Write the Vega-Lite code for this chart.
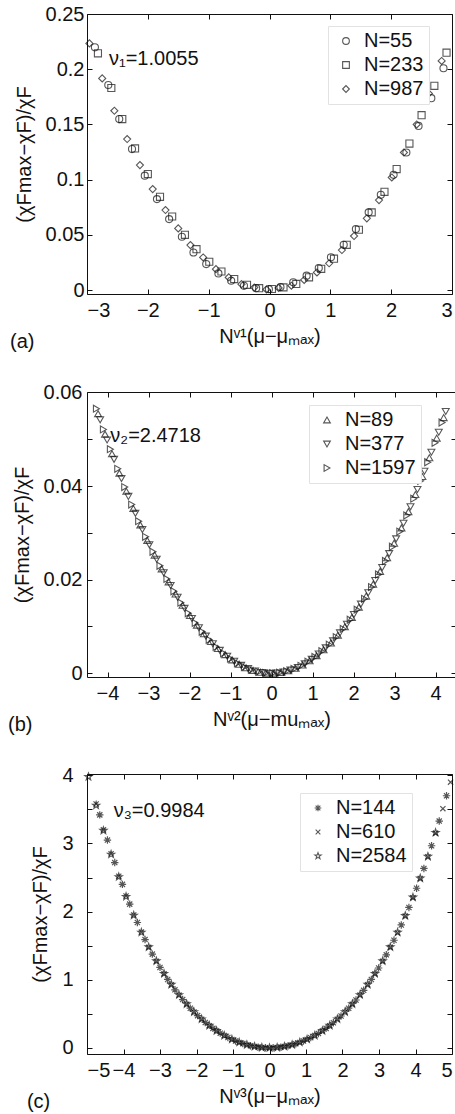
{
  "$schema": "https://vega.github.io/schema/vega-lite/v6.json",
  "background": "white",
  "padding": {"left": 7, "top": 3, "right": 0, "bottom": 0},
  "spacing": 28,
  "resolve": {"scale": {"shape": "independent"}, "legend": {"shape": "independent"}},
  "config": {
    "font": "Liberation Sans",
    "view": {"stroke": "#111111", "strokeWidth": 1},
    "axis": {
      "domain": false, "grid": false,
      "tickColor": "#111111", "tickSize": -5, "tickWidth": 1,
      "labelFont": "Liberation Sans", "labelFontSize": 20, "labelColor": "#111111",
      "titleFont": "Liberation Sans", "titleFontSize": 20, "titleFontWeight": "normal", "titleColor": "#111111"
    },
    "legend": {
      "padding": 5,
      "strokeColor": "#e2e2e2", "fillColor": "white",
      "labelFont": "Liberation Sans", "labelFontSize": 20, "labelColor": "#111111", "labelLimit": 0,
      "symbolSize": 45, "symbolStrokeColor": "#111111", "symbolStrokeWidth": 1,
      "symbolOffset": 3, "labelOffset": 8, "rowPadding": 4
    },
    "title": {"font": "Liberation Sans", "fontSize": 20, "fontWeight": "normal", "color": "#111111"},
    "point": {"filled": false, "stroke": "#111111", "strokeWidth": 1.1}
  },
  "datasets": {
    "a": [
      {"N":"N=55","x":-2.87,"y":0.2198},{"N":"N=55","x":-2.65,"y":0.1857},{"N":"N=55","x":-2.47,"y":0.1549},{"N":"N=55","x":-2.26,"y":0.1277},{"N":"N=55","x":-2.05,"y":0.1036},{"N":"N=55","x":-1.85,"y":0.0824},{"N":"N=55","x":-1.65,"y":0.0643},{"N":"N=55","x":-1.44,"y":0.0483},{"N":"N=55","x":-1.25,"y":0.0341},{"N":"N=55","x":-1.04,"y":0.0236},{"N":"N=55","x":-0.84,"y":0.0151},{"N":"N=55","x":-0.63,"y":0.0085},{"N":"N=55","x":-0.42,"y":0.0039},{"N":"N=55","x":-0.22,"y":0.0018},{"N":"N=55","x":-0.01,"y":0.0009},
      {"N":"N=55","x":0.18,"y":0.0028},{"N":"N=55","x":0.39,"y":0.0071},{"N":"N=55","x":0.61,"y":0.0131},{"N":"N=55","x":0.81,"y":0.0200},{"N":"N=55","x":1.01,"y":0.0297},{"N":"N=55","x":1.22,"y":0.0411},{"N":"N=55","x":1.42,"y":0.0553},{"N":"N=55","x":1.63,"y":0.0704},{"N":"N=55","x":1.83,"y":0.0863},{"N":"N=55","x":2.04,"y":0.1044},{"N":"N=55","x":2.25,"y":0.1246},{"N":"N=55","x":2.45,"y":0.1487},{"N":"N=55","x":2.66,"y":0.1738},{"N":"N=55","x":2.86,"y":0.2009},
      {"N":"N=233","x":-2.82,"y":0.2144},{"N":"N=233","x":-2.60,"y":0.1830},{"N":"N=233","x":-2.42,"y":0.1549},{"N":"N=233","x":-2.21,"y":0.1283},{"N":"N=233","x":-2.00,"y":0.1051},{"N":"N=233","x":-1.80,"y":0.0845},{"N":"N=233","x":-1.60,"y":0.0667},{"N":"N=233","x":-1.39,"y":0.0501},{"N":"N=233","x":-1.20,"y":0.0371},{"N":"N=233","x":-0.99,"y":0.0257},{"N":"N=233","x":-0.79,"y":0.0169},{"N":"N=233","x":-0.58,"y":0.0100},{"N":"N=233","x":-0.37,"y":0.0048},{"N":"N=233","x":-0.17,"y":0.0018},{"N":"N=233","x":0.04,"y":0.0010},
      {"N":"N=233","x":0.23,"y":0.0025},{"N":"N=233","x":0.44,"y":0.0056},{"N":"N=233","x":0.65,"y":0.0116},{"N":"N=233","x":0.85,"y":0.0193},{"N":"N=233","x":1.06,"y":0.0285},{"N":"N=233","x":1.27,"y":0.0410},{"N":"N=233","x":1.47,"y":0.0547},{"N":"N=233","x":1.68,"y":0.0704},{"N":"N=233","x":1.89,"y":0.0890},{"N":"N=233","x":2.09,"y":0.1096},{"N":"N=233","x":2.30,"y":0.1327},{"N":"N=233","x":2.50,"y":0.1584},{"N":"N=233","x":2.71,"y":0.1850},{"N":"N=233","x":2.91,"y":0.2150},
      {"N":"N=987","x":-2.96,"y":0.2234},{"N":"N=987","x":-2.75,"y":0.1917},{"N":"N=987","x":-2.55,"y":0.1624},{"N":"N=987","x":-2.34,"y":0.1368},{"N":"N=987","x":-2.13,"y":0.1132},{"N":"N=987","x":-1.92,"y":0.0915},{"N":"N=987","x":-1.71,"y":0.0725},{"N":"N=987","x":-1.50,"y":0.0559},{"N":"N=987","x":-1.30,"y":0.0408},{"N":"N=987","x":-1.09,"y":0.0296},{"N":"N=987","x":-0.88,"y":0.0190},{"N":"N=987","x":-0.67,"y":0.0115},{"N":"N=987","x":-0.46,"y":0.0054},{"N":"N=987","x":-0.25,"y":0.0024},{"N":"N=987","x":-0.05,"y":0.0006},
      {"N":"N=987","x":0.15,"y":0.0020},{"N":"N=987","x":0.36,"y":0.0040},{"N":"N=987","x":0.57,"y":0.0092},{"N":"N=987","x":0.78,"y":0.0160},{"N":"N=987","x":0.98,"y":0.0243},{"N":"N=987","x":1.19,"y":0.0363},{"N":"N=987","x":1.39,"y":0.0490},{"N":"N=987","x":1.60,"y":0.0650},{"N":"N=987","x":1.80,"y":0.0815},{"N":"N=987","x":2.01,"y":0.1020},{"N":"N=987","x":2.21,"y":0.1246},{"N":"N=987","x":2.42,"y":0.1500},{"N":"N=987","x":2.62,"y":0.1780},{"N":"N=987","x":2.83,"y":0.2075}
    ],
    "b": [
      {"N":"N=89","x":-4.23,"y":0.05547},{"N":"N=89","x":-4.06,"y":0.05110},{"N":"N=89","x":-3.89,"y":0.04691},{"N":"N=89","x":-3.71,"y":0.04276},{"N":"N=89","x":-3.54,"y":0.03889},{"N":"N=89","x":-3.37,"y":0.03521},{"N":"N=89","x":-3.20,"y":0.03170},{"N":"N=89","x":-3.03,"y":0.02839},{"N":"N=89","x":-2.85,"y":0.02525},{"N":"N=89","x":-2.68,"y":0.02230},{"N":"N=89","x":-2.51,"y":0.01953},{"N":"N=89","x":-2.34,"y":0.01695},{"N":"N=89","x":-2.17,"y":0.01454},{"N":"N=89","x":-1.99,"y":0.01233},{"N":"N=89","x":-1.82,"y":0.01029},{"N":"N=89","x":-1.65,"y":0.00844},{"N":"N=89","x":-1.48,"y":0.00677},{"N":"N=89","x":-1.31,"y":0.00529},{"N":"N=89","x":-1.13,"y":0.00399},{"N":"N=89","x":-0.96,"y":0.00287},{"N":"N=89","x":-0.79,"y":0.00193},{"N":"N=89","x":-0.62,"y":0.00118},{"N":"N=89","x":-0.45,"y":0.00062},{"N":"N=89","x":-0.27,"y":0.00023},{"N":"N=89","x":-0.10,"y":0.00003},
      {"N":"N=89","x":0.07,"y":0.00002},{"N":"N=89","x":0.24,"y":0.00018},{"N":"N=89","x":0.41,"y":0.00053},{"N":"N=89","x":0.59,"y":0.00106},{"N":"N=89","x":0.76,"y":0.00178},{"N":"N=89","x":0.93,"y":0.00268},{"N":"N=89","x":1.10,"y":0.00376},{"N":"N=89","x":1.27,"y":0.00503},{"N":"N=89","x":1.45,"y":0.00648},{"N":"N=89","x":1.62,"y":0.00812},{"N":"N=89","x":1.79,"y":0.00993},{"N":"N=89","x":1.96,"y":0.01193},{"N":"N=89","x":2.13,"y":0.01412},{"N":"N=89","x":2.31,"y":0.01649},{"N":"N=89","x":2.48,"y":0.01904},{"N":"N=89","x":2.65,"y":0.02177},{"N":"N=89","x":2.82,"y":0.02469},{"N":"N=89","x":2.99,"y":0.02779},{"N":"N=89","x":3.17,"y":0.03107},{"N":"N=89","x":3.34,"y":0.03454},{"N":"N=89","x":3.51,"y":0.03819},{"N":"N=89","x":3.68,"y":0.04203},{"N":"N=89","x":3.85,"y":0.04605},{"N":"N=89","x":4.03,"y":0.05025},{"N":"N=89","x":4.20,"y":0.05463},
      {"N":"N=377","x":-4.18,"y":0.05416},{"N":"N=377","x":-4.01,"y":0.04984},{"N":"N=377","x":-3.84,"y":0.04570},{"N":"N=377","x":-3.66,"y":0.04161},{"N":"N=377","x":-3.49,"y":0.03779},{"N":"N=377","x":-3.32,"y":0.03417},{"N":"N=377","x":-3.15,"y":0.03071},{"N":"N=377","x":-2.98,"y":0.02745},{"N":"N=377","x":-2.80,"y":0.02437},{"N":"N=377","x":-2.63,"y":0.02147},{"N":"N=377","x":-2.46,"y":0.01875},{"N":"N=377","x":-2.29,"y":0.01623},{"N":"N=377","x":-2.12,"y":0.01387},{"N":"N=377","x":-1.94,"y":0.01171},{"N":"N=377","x":-1.77,"y":0.00973},{"N":"N=377","x":-1.60,"y":0.00793},{"N":"N=377","x":-1.43,"y":0.00631},{"N":"N=377","x":-1.26,"y":0.00489},{"N":"N=377","x":-1.08,"y":0.00364},{"N":"N=377","x":-0.91,"y":0.00257},{"N":"N=377","x":-0.74,"y":0.00169},{"N":"N=377","x":-0.57,"y":0.00099},{"N":"N=377","x":-0.40,"y":0.00048},{"N":"N=377","x":-0.22,"y":0.00015},{"N":"N=377","x":-0.05,"y":0.00001},
      {"N":"N=377","x":0.12,"y":0.00004},{"N":"N=377","x":0.29,"y":0.00026},{"N":"N=377","x":0.46,"y":0.00066},{"N":"N=377","x":0.64,"y":0.00124},{"N":"N=377","x":0.81,"y":0.00201},{"N":"N=377","x":0.98,"y":0.00297},{"N":"N=377","x":1.15,"y":0.00410},{"N":"N=377","x":1.32,"y":0.00542},{"N":"N=377","x":1.50,"y":0.00693},{"N":"N=377","x":1.67,"y":0.00862},{"N":"N=377","x":1.84,"y":0.01048},{"N":"N=377","x":2.01,"y":0.01254},{"N":"N=377","x":2.18,"y":0.01478},{"N":"N=377","x":2.36,"y":0.01720},{"N":"N=377","x":2.53,"y":0.01981},{"N":"N=377","x":2.70,"y":0.02259},{"N":"N=377","x":2.87,"y":0.02556},{"N":"N=377","x":3.04,"y":0.02872},{"N":"N=377","x":3.22,"y":0.03205},{"N":"N=377","x":3.39,"y":0.03557},{"N":"N=377","x":3.56,"y":0.03928},{"N":"N=377","x":3.73,"y":0.04317},{"N":"N=377","x":3.90,"y":0.04724},{"N":"N=377","x":4.08,"y":0.05150},{"N":"N=377","x":4.25,"y":0.05593},
      {"N":"N=1597","x":-4.27,"y":0.05653},{"N":"N=1597","x":-4.10,"y":0.05211},{"N":"N=1597","x":-3.93,"y":0.04788},{"N":"N=1597","x":-3.75,"y":0.04369},{"N":"N=1597","x":-3.58,"y":0.03978},{"N":"N=1597","x":-3.41,"y":0.03605},{"N":"N=1597","x":-3.24,"y":0.03250},{"N":"N=1597","x":-3.07,"y":0.02915},{"N":"N=1597","x":-2.89,"y":0.02596},{"N":"N=1597","x":-2.72,"y":0.02297},{"N":"N=1597","x":-2.55,"y":0.02016},{"N":"N=1597","x":-2.38,"y":0.01753},{"N":"N=1597","x":-2.21,"y":0.01508},{"N":"N=1597","x":-2.03,"y":0.01283},{"N":"N=1597","x":-1.86,"y":0.01075},{"N":"N=1597","x":-1.69,"y":0.00885},{"N":"N=1597","x":-1.52,"y":0.00714},{"N":"N=1597","x":-1.35,"y":0.00562},{"N":"N=1597","x":-1.17,"y":0.00427},{"N":"N=1597","x":-1.00,"y":0.00311},{"N":"N=1597","x":-0.83,"y":0.00213},{"N":"N=1597","x":-0.66,"y":0.00133},{"N":"N=1597","x":-0.49,"y":0.00073},{"N":"N=1597","x":-0.31,"y":0.00030},{"N":"N=1597","x":-0.14,"y":0.00006},
      {"N":"N=1597","x":0.03,"y":0.00000},{"N":"N=1597","x":0.20,"y":0.00012},{"N":"N=1597","x":0.37,"y":0.00043},{"N":"N=1597","x":0.55,"y":0.00091},{"N":"N=1597","x":0.72,"y":0.00159},{"N":"N=1597","x":0.89,"y":0.00245},{"N":"N=1597","x":1.06,"y":0.00348},{"N":"N=1597","x":1.23,"y":0.00471},{"N":"N=1597","x":1.41,"y":0.00612},{"N":"N=1597","x":1.58,"y":0.00772},{"N":"N=1597","x":1.75,"y":0.00948},{"N":"N=1597","x":1.92,"y":0.01144},{"N":"N=1597","x":2.09,"y":0.01359},{"N":"N=1597","x":2.27,"y":0.01591},{"N":"N=1597","x":2.44,"y":0.01842},{"N":"N=1597","x":2.61,"y":0.02111},{"N":"N=1597","x":2.78,"y":0.02398},{"N":"N=1597","x":2.95,"y":0.02704},{"N":"N=1597","x":3.13,"y":0.03028},{"N":"N=1597","x":3.30,"y":0.03371},{"N":"N=1597","x":3.47,"y":0.03731},{"N":"N=1597","x":3.64,"y":0.04111},{"N":"N=1597","x":3.81,"y":0.04509},{"N":"N=1597","x":3.99,"y":0.04924},{"N":"N=1597","x":4.16,"y":0.05358}
    ],
    "c": [
      {"N":"N=144","x":-4.65,"y":3.42},{"N":"N=144","x":-4.44,"y":3.05},{"N":"N=144","x":-4.24,"y":2.72},{"N":"N=144","x":-4.03,"y":2.40},{"N":"N=144","x":-3.83,"y":2.11},{"N":"N=144","x":-3.62,"y":1.84},{"N":"N=144","x":-3.41,"y":1.59},{"N":"N=144","x":-3.21,"y":1.376},{"N":"N=144","x":-3.00,"y":1.181},{"N":"N=144","x":-2.79,"y":1.004},{"N":"N=144","x":-2.59,"y":0.852},{"N":"N=144","x":-2.38,"y":0.709},{"N":"N=144","x":-2.17,"y":0.582},{"N":"N=144","x":-1.97,"y":0.473},{"N":"N=144","x":-1.76,"y":0.373},{"N":"N=144","x":-1.55,"y":0.286},{"N":"N=144","x":-1.35,"y":0.216},{"N":"N=144","x":-1.14,"y":0.152},{"N":"N=144","x":-0.93,"y":0.101},{"N":"N=144","x":-0.73,"y":0.062},{"N":"N=144","x":-0.52,"y":0.031},{"N":"N=144","x":-0.31,"y":0.011},{"N":"N=144","x":-0.11,"y":0.001},
      {"N":"N=144","x":0.10,"y":0.001},{"N":"N=144","x":0.31,"y":0.011},{"N":"N=144","x":0.51,"y":0.030},{"N":"N=144","x":0.72,"y":0.060},{"N":"N=144","x":0.93,"y":0.101},{"N":"N=144","x":1.13,"y":0.150},{"N":"N=144","x":1.34,"y":0.212},{"N":"N=144","x":1.55,"y":0.286},{"N":"N=144","x":1.75,"y":0.369},{"N":"N=144","x":1.96,"y":0.468},{"N":"N=144","x":2.17,"y":0.582},{"N":"N=144","x":2.37,"y":0.703},{"N":"N=144","x":2.58,"y":0.845},{"N":"N=144","x":2.79,"y":1.004},{"N":"N=144","x":2.99,"y":1.172},{"N":"N=144","x":3.20,"y":1.366},{"N":"N=144","x":3.41,"y":1.580},{"N":"N=144","x":3.61,"y":1.804},{"N":"N=144","x":3.82,"y":2.061},{"N":"N=144","x":4.03,"y":2.343},{"N":"N=144","x":4.23,"y":2.634},{"N":"N=144","x":4.44,"y":2.967},{"N":"N=144","x":4.65,"y":3.329},{"N":"N=144","x":4.85,"y":3.701},
      {"N":"N=610","x":-4.75,"y":3.58},{"N":"N=610","x":-4.55,"y":3.20},{"N":"N=610","x":-4.34,"y":2.85},{"N":"N=610","x":-4.13,"y":2.52},{"N":"N=610","x":-3.93,"y":2.23},{"N":"N=610","x":-3.72,"y":1.95},{"N":"N=610","x":-3.51,"y":1.70},{"N":"N=610","x":-3.31,"y":1.476},{"N":"N=610","x":-3.10,"y":1.271},{"N":"N=610","x":-2.89,"y":1.086},{"N":"N=610","x":-2.69,"y":0.926},{"N":"N=610","x":-2.48,"y":0.775},{"N":"N=610","x":-2.27,"y":0.641},{"N":"N=610","x":-2.07,"y":0.526},{"N":"N=610","x":-1.86,"y":0.420},{"N":"N=610","x":-1.65,"y":0.326},{"N":"N=610","x":-1.45,"y":0.250},{"N":"N=610","x":-1.24,"y":0.181},{"N":"N=610","x":-1.03,"y":0.124},{"N":"N=610","x":-0.83,"y":0.080},{"N":"N=610","x":-0.62,"y":0.045},{"N":"N=610","x":-0.41,"y":0.019},{"N":"N=610","x":-0.21,"y":0.005},{"N":"N=610","x":0.00,"y":0.000},
      {"N":"N=610","x":0.21,"y":0.005},{"N":"N=610","x":0.41,"y":0.019},{"N":"N=610","x":0.62,"y":0.045},{"N":"N=610","x":0.83,"y":0.080},{"N":"N=610","x":1.03,"y":0.124},{"N":"N=610","x":1.24,"y":0.181},{"N":"N=610","x":1.45,"y":0.250},{"N":"N=610","x":1.65,"y":0.326},{"N":"N=610","x":1.86,"y":0.420},{"N":"N=610","x":2.07,"y":0.526},{"N":"N=610","x":2.27,"y":0.641},{"N":"N=610","x":2.48,"y":0.775},{"N":"N=610","x":2.69,"y":0.926},{"N":"N=610","x":2.89,"y":1.086},{"N":"N=610","x":3.10,"y":1.271},{"N":"N=610","x":3.31,"y":1.476},{"N":"N=610","x":3.51,"y":1.690},{"N":"N=610","x":3.72,"y":1.936},{"N":"N=610","x":3.93,"y":2.205},{"N":"N=610","x":4.13,"y":2.486},{"N":"N=610","x":4.34,"y":2.805},{"N":"N=610","x":4.55,"y":3.152},{"N":"N=610","x":4.75,"y":3.511},{"N":"N=610","x":4.96,"y":3.90},
      {"N":"N=2584","x":-4.96,"y":3.98},{"N":"N=2584","x":-4.75,"y":3.56},{"N":"N=2584","x":-4.55,"y":3.19},{"N":"N=2584","x":-4.34,"y":2.84},{"N":"N=2584","x":-4.13,"y":2.51},{"N":"N=2584","x":-3.93,"y":2.22},{"N":"N=2584","x":-3.72,"y":1.945},{"N":"N=2584","x":-3.51,"y":1.695},{"N":"N=2584","x":-3.31,"y":1.48},{"N":"N=2584","x":-3.10,"y":1.275},{"N":"N=2584","x":-2.89,"y":1.09},{"N":"N=2584","x":-2.69,"y":0.93},{"N":"N=2584","x":-2.48,"y":0.778},{"N":"N=2584","x":-2.27,"y":0.644},{"N":"N=2584","x":-2.07,"y":0.528},{"N":"N=2584","x":-1.86,"y":0.422},{"N":"N=2584","x":-1.65,"y":0.328},{"N":"N=2584","x":-1.45,"y":0.251},{"N":"N=2584","x":-1.24,"y":0.182},{"N":"N=2584","x":-1.03,"y":0.125},{"N":"N=2584","x":-0.83,"y":0.081},{"N":"N=2584","x":-0.62,"y":0.046},{"N":"N=2584","x":-0.41,"y":0.020},{"N":"N=2584","x":-0.21,"y":0.006},{"N":"N=2584","x":0.00,"y":0.001},
      {"N":"N=2584","x":0.21,"y":0.006},{"N":"N=2584","x":0.41,"y":0.020},{"N":"N=2584","x":0.62,"y":0.046},{"N":"N=2584","x":0.83,"y":0.081},{"N":"N=2584","x":1.03,"y":0.125},{"N":"N=2584","x":1.24,"y":0.182},{"N":"N=2584","x":1.45,"y":0.251},{"N":"N=2584","x":1.65,"y":0.328},{"N":"N=2584","x":1.86,"y":0.422},{"N":"N=2584","x":2.07,"y":0.528},{"N":"N=2584","x":2.27,"y":0.644},{"N":"N=2584","x":2.48,"y":0.778},{"N":"N=2584","x":2.69,"y":0.93},{"N":"N=2584","x":2.89,"y":1.09},{"N":"N=2584","x":3.10,"y":1.275},{"N":"N=2584","x":3.31,"y":1.48},{"N":"N=2584","x":3.51,"y":1.695},{"N":"N=2584","x":3.72,"y":1.94},{"N":"N=2584","x":3.93,"y":2.21},{"N":"N=2584","x":4.13,"y":2.49},{"N":"N=2584","x":4.34,"y":2.81},{"N":"N=2584","x":4.55,"y":3.16}
    ]
  },
  "vconcat": [
    {
      "width": 365, "height": 280,
      "title": {"text": "(a)", "orient": "bottom", "anchor": "start", "frame": "bounds", "offset": -14, "dx": -4},
      "resolve": {"axis": {"x": "independent", "y": "independent"}},
      "layer": [
        {
          "data": {"name": "a"},
          "mark": {"type": "point", "size": 50},
          "encoding": {
            "x": {"field": "x", "type": "quantitative",
                  "scale": {"domain": [-3, 3], "nice": false, "zero": false},
                  "axis": {"values": [-3, -2, -1, 0, 1, 2, 3], "format": "~g", "labelPadding": 11, "title": "Nᵛ¹(μ−μₘₐₓ)", "titlePadding": 6}},
            "y": {"field": "y", "type": "quantitative",
                  "scale": {"domain": [-0.0035, 0.25], "nice": false, "zero": false},
                  "axis": {"values": [0, 0.05, 0.1, 0.15, 0.2, 0.25], "format": "~g", "labelPadding": 8, "title": "(χFmax−χF)/χF", "titlePadding": 11}},
            "shape": {"field": "N", "type": "nominal",
                      "scale": {"domain": ["N=55", "N=233", "N=987"], "range": ["circle", "square", "diamond"]},
                      "legend": {"title": null, "orient": "none", "legendX": 241, "legendY": 12}}
          }
        },
        {
          "data": {"name": "a"},
          "mark": {"type": "point", "opacity": 0},
          "encoding": {
            "x": {"field": "x", "type": "quantitative",
                  "scale": {"domain": [-3, 3], "nice": false, "zero": false},
                  "axis": {"orient": "top", "values": [-3, -2, -1, 0, 1, 2, 3], "labels": false, "title": null}},
            "y": {"field": "y", "type": "quantitative",
                  "scale": {"domain": [-0.0035, 0.25], "nice": false, "zero": false},
                  "axis": {"orient": "right", "values": [0, 0.05, 0.1, 0.15, 0.2, 0.25], "labels": false, "title": null}}
          }
        },
        {
          "data": {"values": [{"x": -2.64, "y": 0.209, "t": "ν₁=1.0055"}]},
          "mark": {"type": "text", "align": "left", "baseline": "middle", "fontSize": 20, "color": "#111111"},
          "encoding": {
            "x": {"field": "x", "type": "quantitative", "axis": null},
            "y": {"field": "y", "type": "quantitative", "axis": null},
            "text": {"field": "t"}
          }
        }
      ]
    },
    {
      "width": 369, "height": 285,
      "title": {"text": "(b)", "orient": "bottom", "anchor": "start", "frame": "bounds", "offset": -14, "dx": -4},
      "resolve": {"axis": {"x": "independent", "y": "independent"}},
      "layer": [
        {
          "data": {"name": "b"},
          "mark": {"type": "point", "size": 48},
          "encoding": {
            "x": {"field": "x", "type": "quantitative",
                  "scale": {"domain": [-4.5, 4.5], "nice": false, "zero": false},
                  "axis": {"values": [-4, -3, -2, -1, 0, 1, 2, 3, 4], "format": "~g", "labelPadding": 11, "title": "Nᵛ²(μ−muₘₐₓ)", "titlePadding": 6}},
            "y": {"field": "y", "type": "quantitative",
                  "scale": {"domain": [-0.0008, 0.0601], "nice": false, "zero": false},
                  "axis": {"values": [0, 0.01, 0.02, 0.03, 0.04, 0.05, 0.06], "format": "~g", "labelExpr": "round(datum.value * 100) % 2 === 0 ? datum.label : ''", "labelPadding": 10, "title": "(χFmax−χF)/χF", "titlePadding": 11}},
            "shape": {"field": "N", "type": "nominal",
                      "scale": {"domain": ["N=89", "N=377", "N=1597"], "range": ["triangle-up", "triangle-down", "triangle-right"]},
                      "legend": {"title": null, "orient": "none", "legendX": 222, "legendY": 13}}
          }
        },
        {
          "data": {"name": "b"},
          "mark": {"type": "point", "opacity": 0},
          "encoding": {
            "x": {"field": "x", "type": "quantitative",
                  "scale": {"domain": [-4.5, 4.5], "nice": false, "zero": false},
                  "axis": {"orient": "top", "values": [-4, -3, -2, -1, 0, 1, 2, 3, 4], "labels": false, "title": null}},
            "y": {"field": "y", "type": "quantitative",
                  "scale": {"domain": [-0.0008, 0.0601], "nice": false, "zero": false},
                  "axis": {"orient": "right", "values": [0, 0.01, 0.02, 0.03, 0.04, 0.05, 0.06], "labels": false, "title": null}}
          }
        },
        {
          "data": {"values": [{"x": -3.93, "y": 0.0508, "t": "ν₂=2.4718"}]},
          "mark": {"type": "text", "align": "left", "baseline": "middle", "fontSize": 20, "color": "#111111"},
          "encoding": {
            "x": {"field": "x", "type": "quantitative", "axis": null},
            "y": {"field": "y", "type": "quantitative", "axis": null},
            "text": {"field": "t"}
          }
        }
      ]
    },
    {
      "width": 365, "height": 280,
      "title": {"text": "(c)", "orient": "bottom", "anchor": "start", "frame": "bounds", "offset": -14, "dx": -4},
      "resolve": {"axis": {"x": "independent", "y": "independent"}},
      "layer": [
        {
          "data": {"name": "c"},
          "mark": {"type": "point", "size": 55, "strokeWidth": 1.2},
          "encoding": {
            "x": {"field": "x", "type": "quantitative",
                  "scale": {"domain": [-5, 5], "nice": false, "zero": false},
                  "axis": {"values": [-5, -4, -3, -2, -1, 0, 1, 2, 3, 4, 5], "format": "~g", "labelPadding": 11, "title": "Nᵛ³(μ−μₘₐₓ)", "titlePadding": 6}},
            "y": {"field": "y", "type": "quantitative",
                  "scale": {"domain": [-0.09, 4.02], "nice": false, "zero": false},
                  "axis": {"values": [0, 0.5, 1, 1.5, 2, 2.5, 3, 3.5, 4], "format": "~g", "labelExpr": "datum.value % 1 === 0 ? datum.label : ''", "labelPadding": 19, "title": "(χFmax−χF)/χF", "titlePadding": 11}},
            "shape": {"field": "N", "type": "nominal",
                      "scale": {"domain": ["N=144", "N=610", "N=2584"],
                                "range": ["M-1,0L1,0M0,-1L0,1M-0.7,-0.7L0.7,0.7M-0.7,0.7L0.7,-0.7", "M-0.7,-0.7L0.7,0.7M-0.7,0.7L0.7,-0.7", "M0,-1L0.235,-0.324L0.951,-0.309L0.38,0.124L0.588,0.809L0,0.4L-0.588,0.809L-0.38,0.124L-0.951,-0.309L-0.235,-0.324Z"]},
                      "legend": {"title": null, "orient": "none", "legendX": 213, "legendY": 19}}
          }
        },
        {
          "data": {"name": "c"},
          "mark": {"type": "point", "opacity": 0},
          "encoding": {
            "x": {"field": "x", "type": "quantitative",
                  "scale": {"domain": [-5, 5], "nice": false, "zero": false},
                  "axis": {"orient": "top", "values": [-5, -4, -3, -2, -1, 0, 1, 2, 3, 4, 5], "labels": false, "title": null}},
            "y": {"field": "y", "type": "quantitative",
                  "scale": {"domain": [-0.09, 4.02], "nice": false, "zero": false},
                  "axis": {"orient": "right", "values": [0, 0.5, 1, 1.5, 2, 2.5, 3, 3.5, 4], "labels": false, "title": null}}
          }
        },
        {
          "data": {"values": [{"x": -4.27, "y": 3.47, "t": "ν₃=0.9984"}]},
          "mark": {"type": "text", "align": "left", "baseline": "middle", "fontSize": 20, "color": "#111111"},
          "encoding": {
            "x": {"field": "x", "type": "quantitative", "axis": null},
            "y": {"field": "y", "type": "quantitative", "axis": null},
            "text": {"field": "t"}
          }
        }
      ]
    }
  ]
}
